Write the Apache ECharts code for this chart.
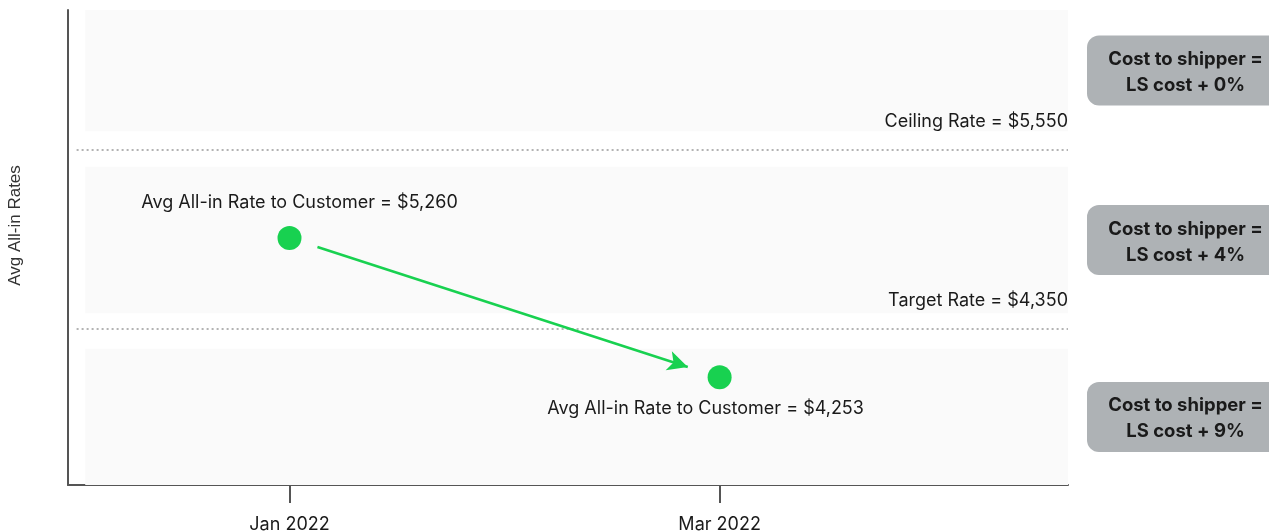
<!DOCTYPE html>
<html>
<head>
<meta charset="utf-8">
<script src="https://cdn.jsdelivr.net/npm/echarts@6/dist/echarts.min.js"></script>
<style>
  html, body { margin: 0; padding: 0; background: #ffffff; }
  #chart { width: 1269px; height: 531px; }
</style>
</head>
<body>
<div id="chart"></div>
<script>
// ---- data ----
const categories = ['Jan 2022', 'Mar 2022'];
const monthIndex = [0, 2];                 // months since Jan 2022
const avgRates = [5260, 4253];             // label values ($)
const rateLevels = [3.12, 1.36];           // schematic vertical level (chart units)
const thresholdNames = ['Ceiling Rate', 'Target Rate'];
const thresholdRates = [5550, 4350];
const thresholdLevels = [4.24, 1.98];
const zoneMarkups = ['0%', '4%', '9%'];
const zoneLow = [4.47, 2.17, 0];
const zoneHigh = [6, 4.02, 1.72];

const X_MIN = -1.03, X_MAX = 3.62, ZONE_X0 = -0.95, LINE_X0 = -0.99;
const FONT = 'Inter, "Noto Sans", sans-serif';
const GREEN = '#18d150';

const fmt = v => '$' + v.toLocaleString('en-US');

const pts = monthIndex.map((m, i) => [m, rateLevels[i]]);
const t0 = 0.065, t1 = 0.926;
const arrowStart = [pts[0][0] + t0 * (pts[1][0] - pts[0][0]), pts[0][1] + t0 * (pts[1][1] - pts[0][1])];
const arrowEnd = [pts[0][0] + t1 * (pts[1][0] - pts[0][0]), pts[0][1] + t1 * (pts[1][1] - pts[0][1])];

const chart = echarts.init(document.getElementById('chart'), null, { renderer: 'canvas' });

const option = {
  backgroundColor: '#ffffff',
  animation: false,
  grid: { left: 68, right: 201, top: 10, bottom: 46, outerBoundsMode: 'none', containLabel: false },
  xAxis: {
    type: 'value', min: X_MIN, max: X_MAX,
    splitLine: { show: false },
    axisLine: { show: true, onZero: false, lineStyle: { color: '#555555', width: 2 } },
    axisTick: { show: true, customValues: monthIndex, length: 18, lineStyle: { color: '#555555', width: 2 } },
    axisLabel: {
      customValues: monthIndex, margin: 31, color: '#1a1a1a', fontSize: 18, fontFamily: FONT,
      formatter: v => categories[monthIndex.indexOf(v)] || ''
    }
  },
  yAxis: {
    type: 'value', min: 0, max: 6,
    name: 'Avg All-in Rates', nameLocation: 'middle', nameGap: 44,
    nameTextStyle: { color: '#333333', fontSize: 17, fontFamily: 'Liberation Sans, Arial, sans-serif', padding: [0, 0, 0, 44] },
    splitLine: { show: false },
    axisLine: { show: true, onZero: false, lineStyle: { color: '#555555', width: 2 } },
    axisTick: { show: false },
    axisLabel: { show: false }
  },
  series: [
    {
      type: 'scatter',
      symbolSize: 24,
      itemStyle: { color: GREEN, opacity: 1 },
      z: 5,
      data: pts.map((p, i) => ({
        value: p,
        label: {
          show: true,
          position: i === 0 ? 'top' : 'bottom',
          distance: i === 0 ? 14 : 10,
          offset: i === 0 ? [10, 0] : [-14, 0],
          formatter: 'Avg All-in Rate to Customer = ' + fmt(avgRates[i]),
          color: '#1a1a1a', fontSize: 18, fontFamily: FONT
        }
      })),
      markArea: {
        silent: true,
        itemStyle: { color: '#fafafa' },
        label: {
          show: true, position: 'right', distance: 19,
          backgroundColor: '#aeb2b5', borderRadius: 12, padding: [11, 20, 7, 20],
          rich: {
            b: { width: 157, align: 'center', fontWeight: 'bold', fontSize: 18.5, lineHeight: 26, color: '#1a1a1a', fontFamily: FONT }
          }
        },
        data: zoneMarkups.map((m, i) => [
          { xAxis: ZONE_X0, yAxis: zoneLow[i], name: m,
            label: { formatter: '{b|Cost to shipper =}\n{b|LS cost + ' + m + '}' } },
          { xAxis: X_MAX, yAxis: zoneHigh[i] }
        ])
      },
      markLine: {
        silent: true,
        symbol: ['none', 'none'],
        data: thresholdNames.map((n, i) => [
          { coord: [LINE_X0, thresholdLevels[i]],
            lineStyle: { color: '#b3b3b3', width: 2, type: [2, 3] },
            label: {
              show: true, position: 'insideEndTop', distance: [0, 19],
              formatter: n + ' = ' + fmt(thresholdRates[i]),
              color: '#1a1a1a', fontSize: 18, fontFamily: FONT
            } },
          { coord: [X_MAX, thresholdLevels[i]] }
        ]).concat([[
          { coord: arrowStart, symbol: 'none',
            lineStyle: { color: GREEN, width: 2.5, type: 'solid' }, label: { show: false } },
          { coord: arrowEnd, symbol: 'arrow', symbolSize: [15, 20] }
        ]])
      }
    }
  ]
};
chart.setOption(option);
</script>
</body>
</html>
